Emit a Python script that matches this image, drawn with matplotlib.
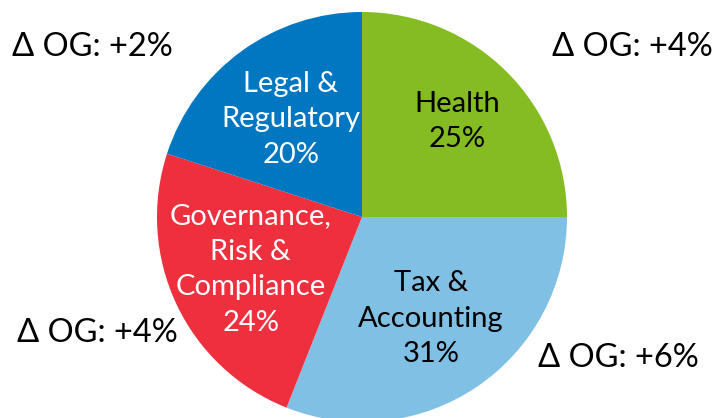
import numpy as np
import matplotlib
matplotlib.use("Agg")
import matplotlib.pyplot as plt

# Доли сегментов (по часовой стрелке от 12 часов)
labels = ["Health", "Tax &\nAccounting", "Governance,\nRisk &\nCompliance", "Legal &\nRegulatory"]
shares = [25, 31, 24, 20]
colors = ["#85BC22", "#7FC0E4", "#EE2F3E", "#0077C0"]
text_colors = ["black", "black", "white", "white"]
label_dist = [0.66, 0.60, 0.60, 0.59]

# Подписи изменений по углам
og_texts = ["Δ OG: +4%", "Δ OG: +6%", "Δ OG: +4%", "Δ OG: +2%"]
og_pos = [(632, 47), (618, 358), (97, 333), (92, 47)]

W, H = 717, 418
fig = plt.figure(figsize=(W / 100, H / 100), dpi=100)
ax = fig.add_axes([0, 0, 1, 1])

fam = ["Lato", "DejaVu Sans"]
cx, cy, r = 362, H - 217, 205

wedges, _ = ax.pie(shares, colors=colors, startangle=90, counterclock=False,
                   center=(cx, cy), radius=r, frame=True,
                   wedgeprops=dict(linewidth=0))
ax.set_xlim(0, W)
ax.set_ylim(0, H)
ax.set_aspect("equal")
ax.axis("off")

for w, lab, s, tc, d in zip(wedges, labels, shares, text_colors, label_dist):
    ang = np.deg2rad((w.theta1 + w.theta2) / 2)
    x = cx + d * r * np.cos(ang)
    y = cy + d * r * np.sin(ang)
    ax.text(x, y, f"{lab}\n{s}%", ha="center", va="center", color=tc,
            fontsize=21, family=fam, linespacing=1.45)

for t, (x, y) in zip(og_texts, og_pos):
    ax.text(x, H - y, t, ha="center", va="center", fontsize=23.5, family=fam)

fig.savefig("out.png", dpi=100)
